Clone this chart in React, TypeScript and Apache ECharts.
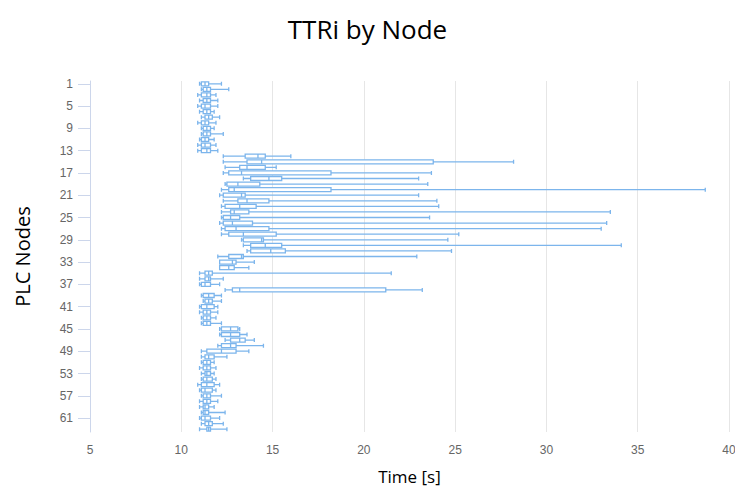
import React, { useEffect, useRef } from "react";
import * as echarts from "echarts";

const nodes = [
  "1","2","3","4","5","6","7","8","9","10","11","12","13","14","15","16","17","18","19","20","21",
  "22","23","24","25","26","27","28","29","30","31","32","33","34","35","36","37","38","39","40","41","42",
  "43","44","45","46","47","48","49","50","51","52","53","54","55","56","57","58","59","60","61","62","63",
];

const mins = [
  11.0, 11.1, 10.9, 11.0, 10.9, 11.0, 11.1, 10.9, 11.1, 11.1, 11.0, 10.9, 10.9,
  12.3, 12.3, 12.4, 12.3, 13.4, 12.4, 12.2, 12.1, 12.3, 12.2, 12.2, 12.2, 12.1, 12.2, 12.2,
  13.3, 13.4, 13.6, 12.0, 12.1, 12.1, 11.0, 11.0, 11.0, 12.4, 11.1, 11.2, 11.0, 11.0, 11.1,
  11.1, 12.1, 12.1, 12.4, 12.0, 11.1, 11.1, 11.1, 11.0, 11.1, 11.1, 10.9, 11.0, 11.1, 11.0,
  11.0, 11.1, 11.0, 11.1, 11.0,
];
const q1s = [
  11.1, 11.2, 11.1, 11.2, 11.1, 11.2, 11.3, 11.1, 11.2, 11.2, 11.1, 11.1, 11.1,
  13.5, 13.6, 13.2, 12.6, 13.8, 12.5, 12.6, 12.3, 13.1, 12.4, 12.7, 12.3, 12.3, 12.4, 12.6,
  13.4, 13.8, 13.8, 12.6, 12.1, 12.1, 11.3, 11.3, 11.1, 12.8, 11.2, 11.3, 11.1, 11.2, 11.2,
  11.2, 12.2, 12.2, 12.7, 12.2, 11.4, 11.3, 11.2, 11.2, 11.3, 11.2, 11.1, 11.1, 11.2, 11.2,
  11.2, 11.2, 11.1, 11.3, 11.4,
];
const medians = [
  11.3, 11.4, 11.4, 11.4, 11.3, 11.4, 11.5, 11.3, 11.4, 11.4, 11.3, 11.3, 11.4,
  14.2, 14.4, 13.6, 13.3, 14.8, 13.1, 12.9, 13.3, 13.6, 13.2, 12.9, 12.7, 12.8, 13.0, 13.4,
  14.4, 14.6, 14.9, 13.3, 12.8, 12.6, 11.5, 11.5, 11.3, 13.2, 11.5, 11.5, 11.4, 11.4, 11.4,
  11.4, 12.7, 12.7, 13.2, 12.7, 12.2, 11.5, 11.4, 11.4, 11.4, 11.4, 11.4, 11.3, 11.4, 11.4,
  11.3, 11.3, 11.3, 11.5, 11.5,
];
const q3s = [
  11.5, 11.6, 11.6, 11.6, 11.6, 11.6, 11.7, 11.5, 11.6, 11.6, 11.5, 11.6, 11.6,
  14.6, 23.8, 14.6, 18.2, 15.5, 14.3, 18.2, 13.5, 14.8, 14.1, 13.7, 13.2, 13.9, 14.8, 15.2,
  14.5, 15.5, 15.7, 13.4, 13.0, 12.9, 11.7, 11.6, 11.6, 21.2, 11.8, 11.7, 11.8, 11.6, 11.6,
  11.6, 13.1, 13.2, 13.5, 13.0, 13.0, 11.8, 11.6, 11.6, 11.6, 11.7, 11.8, 11.7, 11.6, 11.6,
  11.5, 11.5, 11.6, 11.7, 11.6,
];
const maxs = [
  12.2, 12.6, 11.9, 12.0, 12.0, 11.8, 12.1, 11.9, 11.8, 12.3, 11.8, 11.9, 12.0,
  16.0, 28.2, 15.2, 23.7, 23.0, 23.5, 38.7, 23.0, 24.0, 24.1, 33.5, 23.6, 33.3, 33.0, 25.2,
  24.6, 34.1, 24.8, 22.9, 14.0, 13.7, 21.5, 12.3, 12.1, 23.2, 12.2, 12.2, 12.0, 12.0, 11.9,
  12.2, 13.2, 13.6, 14.0, 14.5, 13.7, 12.5, 11.8, 11.9, 11.8, 11.9, 12.1, 11.9, 12.2, 12.0,
  11.8, 12.4, 12.1, 12.3, 12.5,
];

const xTicks = { min: 5, max: 40, interval: 5 };

export default function App() {
  const ref = useRef<HTMLDivElement>(null);
  useEffect(() => {
    document.body.style.margin = "0";
    const chart = echarts.init(ref.current!, undefined, { renderer: "svg" });
    const boxData = nodes.map((_, i) => [mins[i], q1s[i], medians[i], q3s[i], maxs[i]]);
    chart.setOption({
      animation: false,
      backgroundColor: "#ffffff",
      title: {
        text: "TTRi by Node",
        left: "center",
        top: 11,
        textStyle: {
          fontFamily: "Open Sans",
          fontSize: 26,
          fontWeight: "normal",
          color: "#000000",
        },
      },
      grid: {
        left: 90,
        right: 6,
        top: 81,
        bottom: 62,
        containLabel: false,
        outerBoundsMode: "none",
      },
      xAxis: {
        type: "value",
        min: xTicks.min,
        max: xTicks.max,
        interval: xTicks.interval,
        name: "Time [s]",
        nameLocation: "middle",
        nameGap: 36,
        nameTextStyle: { fontFamily: "Open Sans", fontSize: 17, color: "#000000" },
        axisLine: { show: false },
        axisTick: { show: false },
        axisLabel: {
          fontFamily: "Liberation Sans",
          fontSize: 12,
          color: "#666666",
          margin: 12,
        },
        splitLine: { show: true, lineStyle: { color: "#e6e6e6", width: 1 } },
      },
      yAxis: {
        type: "category",
        data: nodes,
        inverse: true,
        name: "PLC Nodes",
        nameLocation: "middle",
        nameGap: 58,
        nameRotate: 90,
        nameTextStyle: { fontFamily: "Open Sans", fontSize: 20, color: "#000000" },
        axisLine: { show: true, lineStyle: { color: "#ccd6eb", width: 1 } },
        axisTick: {
          show: true,
          alignWithLabel: true,
          interval: 3,
          length: 12,
          lineStyle: { color: "#ccd6eb" },
        },
        axisLabel: {
          interval: 3,
          fontFamily: "Liberation Sans",
          fontSize: 12,
          color: "#666666",
          margin: 17,
        },
        splitLine: { show: false },
      },
      series: [
        {
          type: "boxplot",
          data: boxData,
          boxWidth: [4, 4],
          itemStyle: {
            color: "#ffffff",
            borderColor: "#7cb5ec",
            borderWidth: 1.3,
          },
        },
      ],
    });
    return () => chart.dispose();
  }, []);
  return <div ref={ref} style={{ width: 735, height: 494 }} />;
}
